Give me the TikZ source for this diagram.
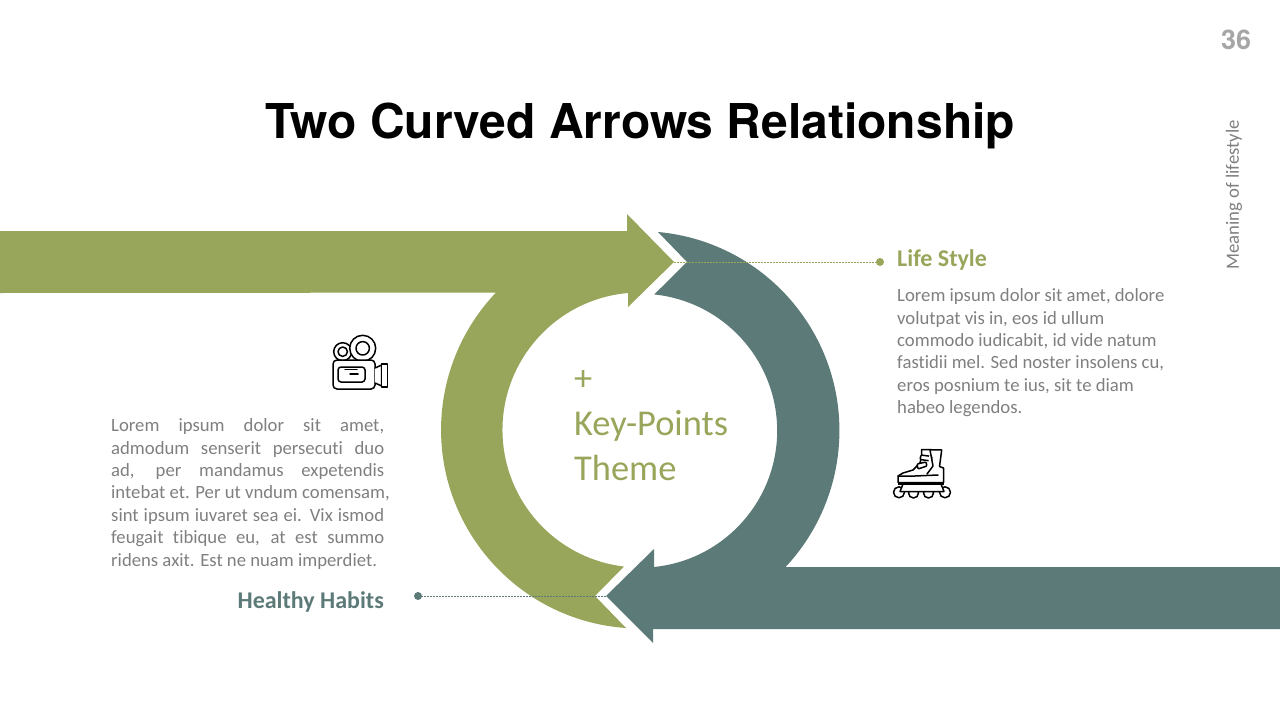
\documentclass[tikz,border=0pt]{standalone}
\usepackage{fontspec}
\setmainfont[Ligatures=NoCommon]{Carlito}
\newfontfamily\headfont{TeX Gyre Heros}
\definecolor{olivegreen}{HTML}{97A65A}
\definecolor{slateteal}{HTML}{5C7A78}
\definecolor{bodygray}{HTML}{7F7F7F}
\definecolor{pagegray}{HTML}{A6A6A6}
\tikzset{
  bodytext/.style={inner sep=0pt,align=left,text=bodygray,font=\fontsize{18.7}{22.4}\selectfont},
  headtext/.style={inner sep=0pt,font=\fontsize{24}{28}\selectfont\bfseries},
  leaderline/.style={dash pattern=on 2.2pt off 0.8pt,line width=0.8pt},
  enddot/.style={circle,inner sep=0pt,minimum size=8pt},
  iconline/.style={line width=1.5pt,black,line join=round,line cap=round,fill=white}
}
\newcommand{\jline}[1]{\makebox[273pt][s]{#1}}
\begin{document}
\begin{tikzpicture}[x=1pt,y=-1pt]
\useasboundingbox (0,0) rectangle (1280,720);
% arrows
\fill[olivegreen] (0,231) -- (627,231) -- (627,214) -- (674,262) -- (628,307) -- (628,293)
  arc[start angle=95,end angle=263.3,radius=137.5pt] -- (595,596) -- (626,628)
  arc[start angle=266,end angle=136.4,radius=198.8pt] -- (0,293) -- cycle;
\fill[slateteal] (1280,629) -- (653,629) -- (653,643) -- (606,596) -- (654,549) -- (654,567)
  arc[start angle=-84.2,end angle=84.1,radius=137pt] -- (687,262) -- (658,232)
  arc[start angle=84.8,end angle=-43.2,radius=199.5pt] -- (1280,567) -- cycle;
% leaders
\coordinate (greentip) at (674,262);
\coordinate (tealtip) at (606,596);
\node[enddot,fill=olivegreen] (greendot) at (880,262) {};
\node[enddot,fill=slateteal] (tealdot) at (418,596) {};
\draw[leaderline,olivegreen] (greentip) -- (greendot.center);
\draw[leaderline,slateteal] (tealdot.center) -- (tealtip);
% texts
\node[inner sep=0pt,font=\headfont\fontsize{48}{56}\selectfont\bfseries,text=black] (title) at (640,126) {Two Curved Arrows Relationship};
\node[inner sep=0pt,font=\headfont\fontsize{27}{30}\selectfont\bfseries,text=pagegray] (pagenum) at (1236,40) {36};
\node[inner sep=0pt,rotate=90,text=bodygray,font=\fontsize{18.7}{22}\selectfont] (side) at (1234,195) {Meaning of lifestyle};
\node[headtext,text=olivegreen,anchor=west] (life) at (897,260) {Life Style};
\node[headtext,text=slateteal,anchor=east] (healthy) at (384,601.5) {Healthy Habits};
\node[bodytext,anchor=north west] (rightpara) at (897,288.5) {Lorem ipsum dolor sit amet, dolore\\volutpat vis in, eos id ullum\\commodo iudicabit, id vide natum\\fastidii mel. Sed noster insolens cu,\\eros posnium te ius, sit te diam\\habeo legendos.};
\node[bodytext,anchor=north west] (leftpara) at (111,418.5) {\jline{Lorem ipsum dolor sit amet,}\\\jline{admodum senserit persecuti duo}\\\jline{ad, per mandamus expetendis}\\intebat et. Per ut vndum comensam,\\\jline{sint ipsum iuvaret sea ei. Vix ismod}\\\jline{feugait tibique eu, at est summo}\\ridens axit. Est ne nuam imperdiet.};
\node[inner sep=0pt,anchor=north west,align=left,text=olivegreen,font=\fontsize{36.4}{45}\selectfont] (centre) at (574,370.5) {+\\Key-Points\\Theme};
% camera icon
\draw[iconline] (342.7,351.7) circle[radius=9pt];
\draw[iconline] (342.7,351.7) circle[radius=4.7pt];
\draw[iconline] (362.7,348.3) circle[radius=13pt];
\draw[iconline] (362.7,348.3) circle[radius=6.7pt];
\draw[iconline,rounded corners=4pt] (333,360) rectangle (375,389);
\draw[iconline,rounded corners=3pt] (338,367) rectangle (365,382);
\draw[iconline] (345,369.5) -- (357,369.5) (350,374) -- (358,374);
\draw[iconline] (375,368) -- (381.7,365) -- (381.7,386) -- (375,383);
\draw[iconline] (381.7,364) rectangle (387.7,387);
% skate icon
\draw[iconline] (913.5,493) circle[radius=5pt] (928.5,493) circle[radius=5pt];
\draw[iconline] (899,492.3) circle[radius=5.5pt] (945,492.3) circle[radius=5.5pt];
\draw[iconline] (903,484) -- (900,491.5) -- (944,491.5) -- (941,484) -- cycle;
\draw[iconline] (898,476) -- (898,482.5) -- (943.5,482.5) -- (943.5,468) -- (939.5,466.5) -- (941.7,450) -- (921.7,449.5) -- (921.7,456) -- (920,463) -- (913,470) -- (903,473) -- cycle;
\draw[line width=2.5pt,black] (898,483.5) -- (943.5,483.5);
\draw[iconline] (898,476) -- (915,476) -- (938,475);
\draw[iconline,rounded corners=1pt] (921,455) -- (932,456.5) -- (931,461) -- (920,459.5) -- cycle;
\draw[iconline,rounded corners=1pt] (917,464) -- (926,462) -- (927,466) -- (918,469) -- cycle;
\draw[iconline] (930,450) -- (933,466) -- (927,474);
\end{tikzpicture}
\end{document}
